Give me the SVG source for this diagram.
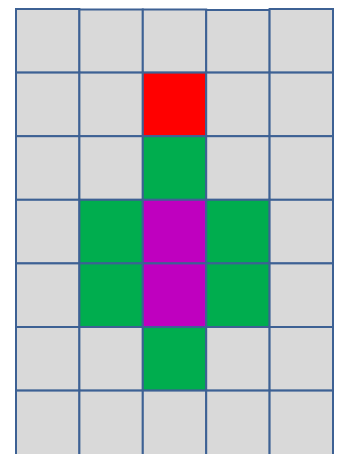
<svg xmlns="http://www.w3.org/2000/svg" width="341" height="454" viewBox="0 0 341 454">
<style>
rect{stroke:#3D6194;stroke-width:2}
.g{fill:#D9D9D9}.r{fill:#FF0000}.n{fill:#00AD4E}.p{fill:#BF00BF}
</style>
<rect width="341" height="454" fill="#FFFFFF" style="stroke:none"/>
<g id="row1">
<rect class="g" x="16" y="9" width="63.4" height="63.6"/>
<rect class="g" x="79.4" y="9.5" width="63.4" height="63.1"/>
<rect class="g" x="142.8" y="9.5" width="63.4" height="63.1"/>
<rect class="g" x="206.2" y="10" width="63.4" height="62.6"/>
<rect class="g" x="269.6" y="9" width="63.4" height="63.6"/>
</g>
<g id="row2">
<rect class="g" x="16" y="72.6" width="63.4" height="63.6"/>
<rect class="g" x="79.4" y="72.6" width="63.4" height="63.6"/>
<rect class="r" x="142.8" y="72.6" width="63.4" height="63.6"/>
<rect class="g" x="206.2" y="72.6" width="63.4" height="63.6"/>
<rect class="g" x="269.6" y="72.6" width="63.4" height="63.6"/>
</g>
<g id="row3">
<rect class="g" x="16" y="136.2" width="63.4" height="63.6"/>
<rect class="g" x="79.4" y="136.2" width="63.4" height="63.6"/>
<rect class="n" x="142.8" y="136.2" width="63.4" height="63.6"/>
<rect class="g" x="206.2" y="136.2" width="63.4" height="63.6"/>
<rect class="g" x="269.6" y="136.2" width="63.4" height="63.6"/>
</g>
<g id="row4">
<rect class="g" x="16" y="199.8" width="63.4" height="63.6"/>
<rect class="n" x="79.4" y="199.8" width="63.4" height="63.6"/>
<rect class="p" x="142.8" y="199.8" width="63.4" height="63.6"/>
<rect class="n" x="206.2" y="199.8" width="63.4" height="63.6"/>
<rect class="g" x="269.6" y="199.8" width="63.4" height="63.6"/>
</g>
<g id="row5">
<rect class="g" x="16" y="263.4" width="63.4" height="63.6"/>
<rect class="n" x="79.4" y="263.4" width="63.4" height="63.6"/>
<rect class="p" x="142.8" y="263.4" width="63.4" height="63.6"/>
<rect class="n" x="206.2" y="263.4" width="63.4" height="63.6"/>
<rect class="g" x="269.6" y="263.4" width="63.4" height="63.6"/>
</g>
<g id="row6">
<rect class="g" x="16" y="327" width="63.4" height="63.6"/>
<rect class="g" x="79.4" y="327" width="63.4" height="63.6"/>
<rect class="n" x="142.8" y="327" width="63.4" height="63.6"/>
<rect class="g" x="206.2" y="327" width="63.4" height="63.6"/>
<rect class="g" x="269.6" y="327" width="63.4" height="63.6"/>
</g>
<g id="row7">
<rect class="g" x="16" y="390.6" width="63.4" height="70"/>
<rect class="g" x="79.4" y="390.6" width="63.4" height="70"/>
<rect class="g" x="142.8" y="390.6" width="63.4" height="70"/>
<rect class="g" x="206.2" y="390.6" width="63.4" height="70"/>
<rect class="g" x="269.6" y="390.6" width="63.4" height="70"/>
</g>
</svg>
